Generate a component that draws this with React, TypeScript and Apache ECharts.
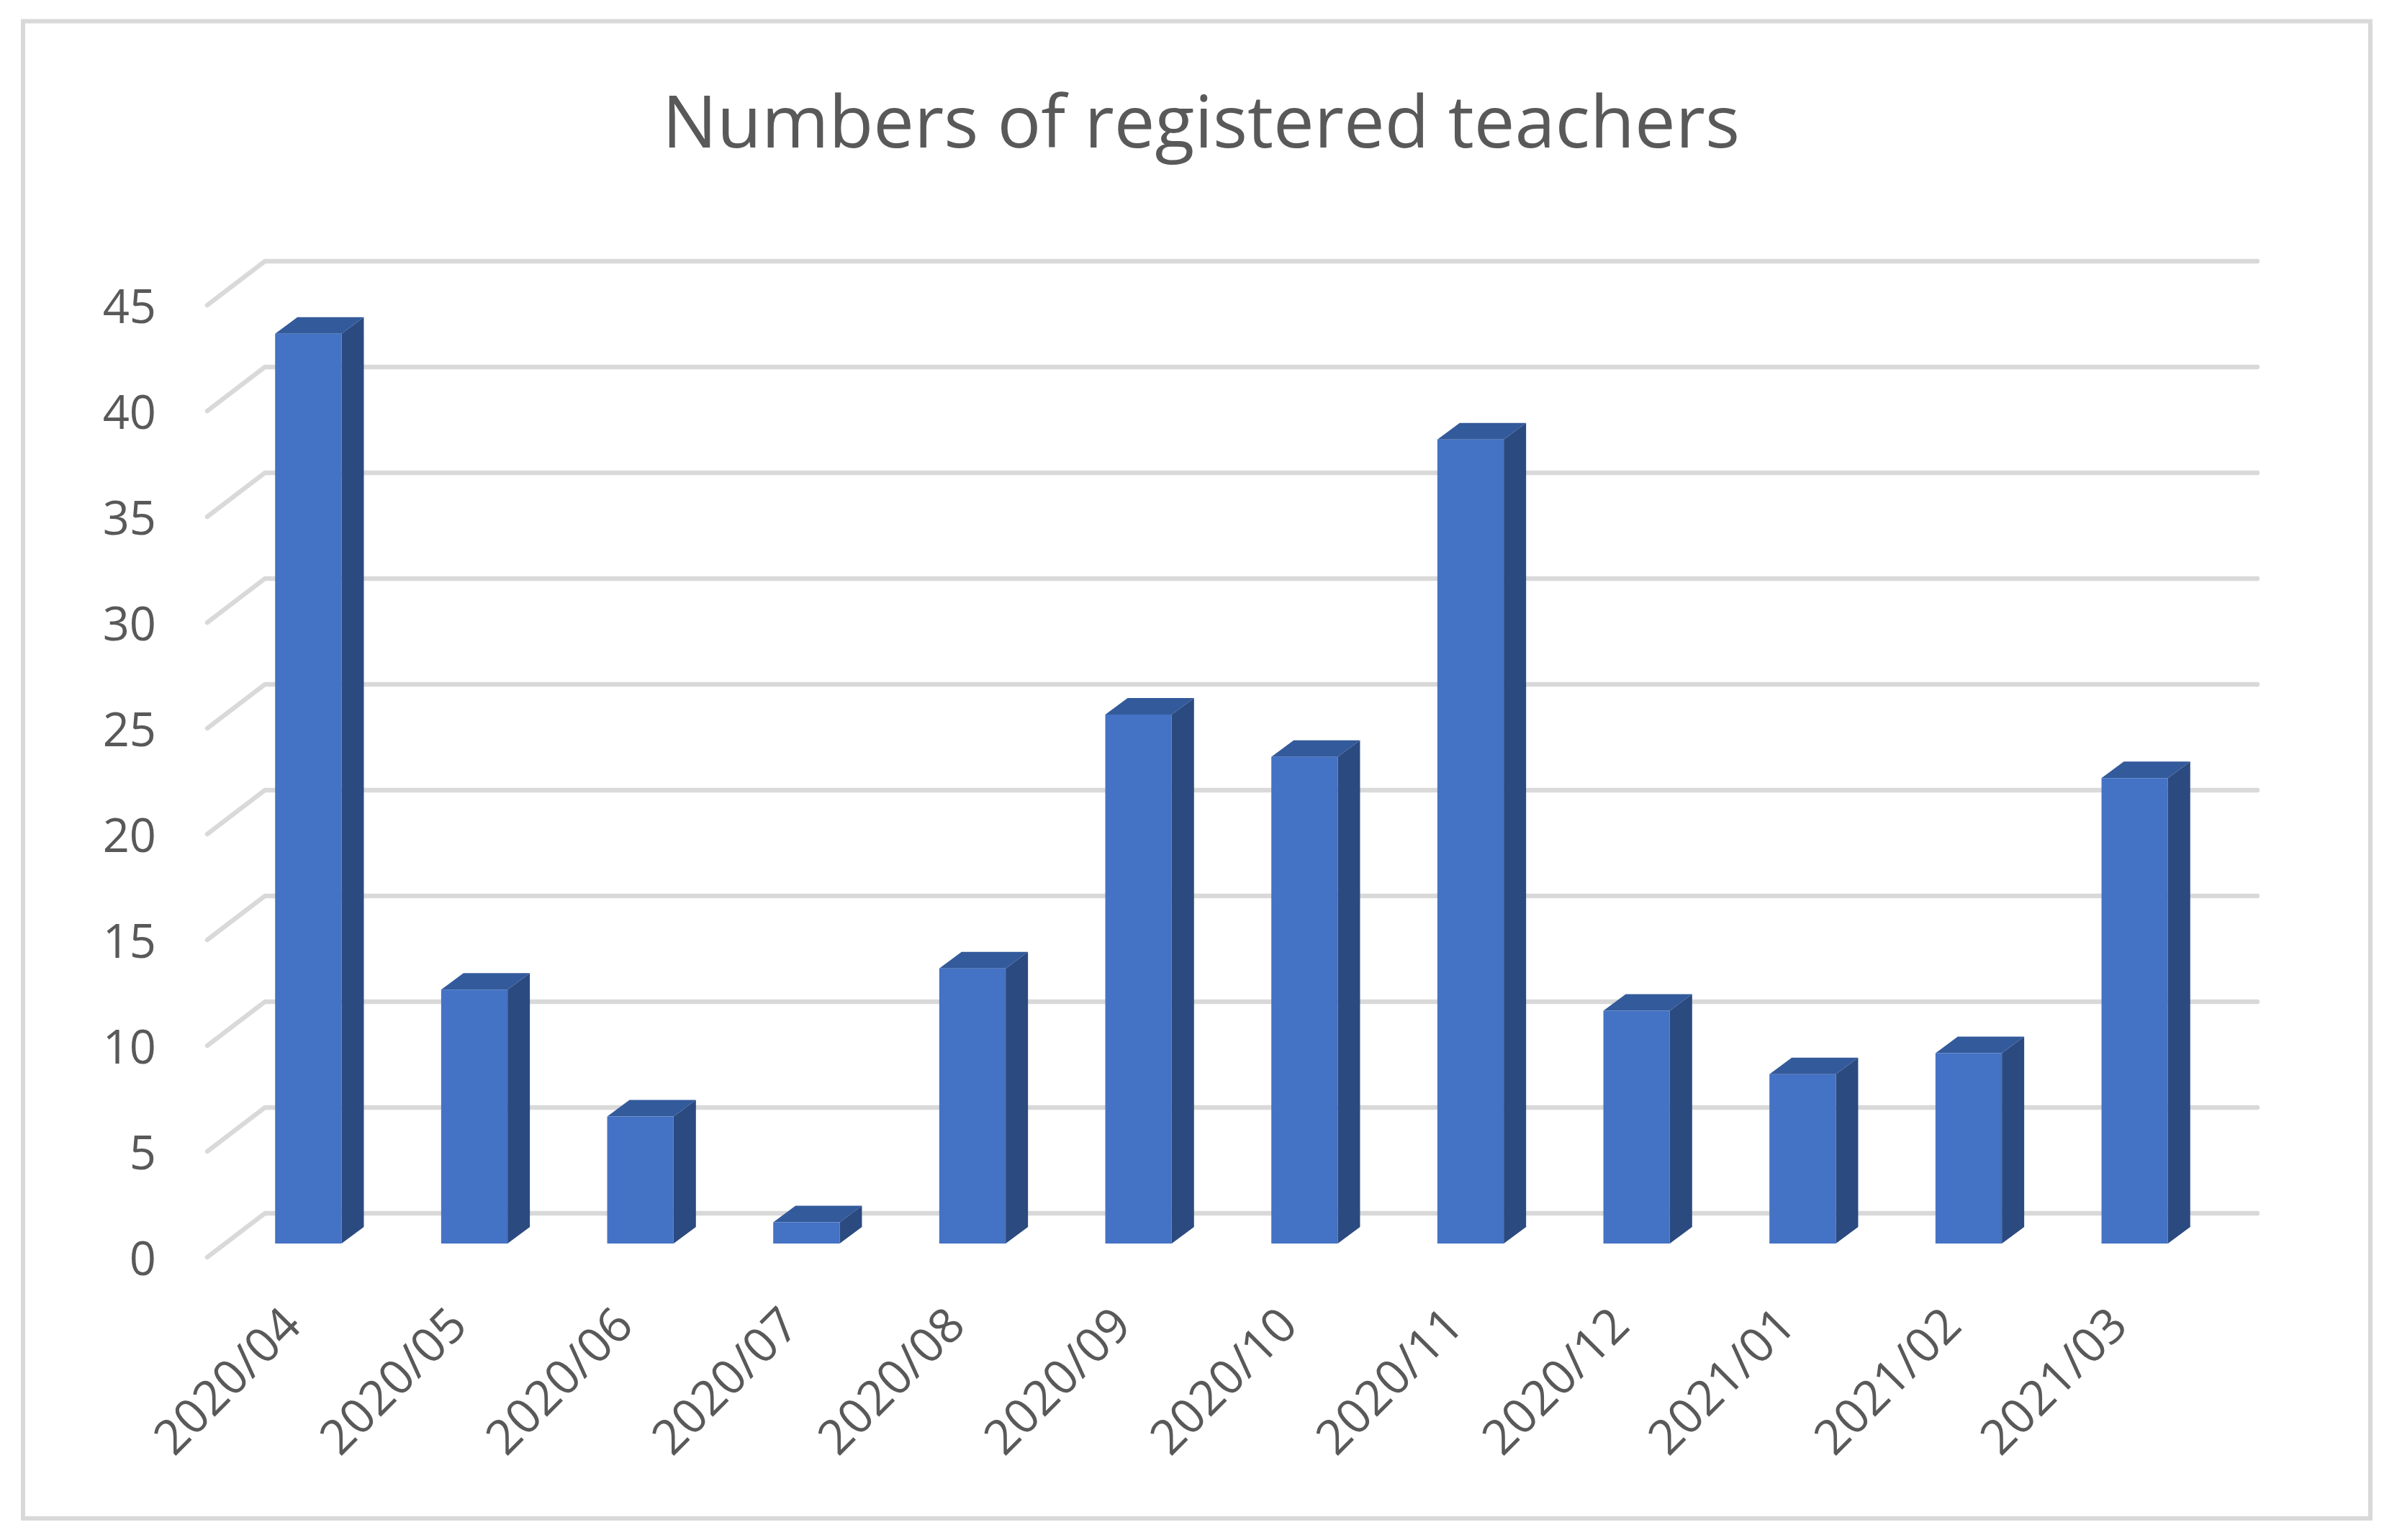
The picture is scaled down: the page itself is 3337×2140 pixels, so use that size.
import React, { useEffect, useRef } from "react";
import * as echarts from "echarts";

const categories = [
  "2020/04", "2020/05", "2020/06", "2020/07", "2020/08", "2020/09",
  "2020/10", "2020/11", "2020/12", "2021/01", "2021/02", "2021/03",
];
const registered = [43, 12, 6, 1, 13, 25, 23, 38, 11, 8, 9, 22];
const yTicks = [0, 5, 10, 15, 20, 25, 30, 35, 40, 45];
const chartTitle = "Numbers of registered teachers";

// 3D geometry (floor depth vector and bar placement within depth)
const FLOOR_DX = -80;
const FLOOR_DY = 61;
const BAR_FRONT_DX = -55;
const BAR_FRONT_DY = 42;
const BAR_DEPTH_DX = 31;
const BAR_DEPTH_DY = -23;

const FONT = "'Open Sans', 'Noto Sans', sans-serif";
const TEXT_COLOR = "#595959";

export default function App() {
  const ref = useRef<HTMLDivElement>(null);

  useEffect(() => {
    if (!ref.current) return;
    const chart = echarts.init(ref.current, null, { renderer: "svg" });

    const barData = categories.map((c, i) => [i, registered[i]]);
    const gridData = yTicks.map((v) => [0, v]);

    chart.setOption({
      animation: false,
      backgroundColor: "#ffffff",
      title: {
        text: chartTitle,
        left: "center",
        top: 110,
        textStyle: {
          fontFamily: FONT,
          fontSize: 101,
          fontWeight: "normal",
          color: TEXT_COLOR,
        },
      },
      graphic: [
        {
          type: "rect",
          shape: { x: 32, y: 29.5, width: 3261, height: 2080.5 },
          style: { fill: "none", stroke: "#d9d9d9", lineWidth: 6 },
          silent: true,
          z: -10,
        },
      ],
      grid: [
        { left: 368, right: 201, top: 363, bottom: 454 },
        { left: 288, right: 281, top: 424, bottom: 393 },
      ],
      xAxis: [
        {
          gridIndex: 0,
          type: "category",
          data: categories,
          axisLine: { show: false },
          axisTick: { show: false },
          axisLabel: { show: false },
          splitLine: { show: false },
        },
        {
          gridIndex: 1,
          type: "category",
          data: categories,
          axisLine: { show: false },
          axisTick: { show: false },
          splitLine: { show: false },
          axisLabel: {
            interval: 0,
            rotate: 45,
            margin: 80,
            fontFamily: FONT,
            fontSize: 67,
            color: TEXT_COLOR,
          },
        },
      ],
      yAxis: [
        {
          gridIndex: 0,
          type: "value",
          min: 0,
          max: 45,
          interval: 5,
          axisLine: { show: false },
          axisTick: { show: false },
          axisLabel: { show: false },
          splitLine: { show: false },
        },
        {
          gridIndex: 1,
          type: "value",
          min: 0,
          max: 45,
          interval: 5,
          axisLine: { show: false },
          axisTick: { show: false },
          splitLine: { show: false },
          axisLabel: {
            margin: 71,
            fontFamily: FONT,
            fontSize: 65,
            color: TEXT_COLOR,
          },
        },
      ],
      series: [
        {
          type: "custom",
          name: "gridlines",
          xAxisIndex: 0,
          yAxisIndex: 0,
          clip: false,
          silent: true,
          z: 1,
          data: gridData,
          encode: { x: 0, y: 1 },
          renderItem: (params: any, api: any) => {
            const v = api.value(1);
            const p = api.coord([0, v]);
            const cs = params.coordSys;
            const x0 = cs.x;
            const x1 = cs.x + cs.width;
            return {
              type: "polyline",
              shape: {
                points: [
                  [x0 + FLOOR_DX, p[1] + FLOOR_DY],
                  [x0, p[1]],
                  [x1, p[1]],
                ],
              },
              style: {
                stroke: "#d9d9d9",
                lineWidth: 6.5,
                fill: "none",
                lineCap: "round",
                lineJoin: "round",
              },
            };
          },
        },
        {
          type: "custom",
          name: "Registered teachers",
          xAxisIndex: 0,
          yAxisIndex: 0,
          clip: false,
          z: 5,
          data: barData,
          encode: { x: 0, y: 1 },
          renderItem: (params: any, api: any) => {
            const i = api.value(0);
            const v = api.value(1);
            const top = api.coord([i, v]);
            const base = api.coord([i, 0]);
            const band = api.size([1, 0])[0];
            const w = band * 0.4;
            const fx = top[0] + BAR_FRONT_DX;
            const xL = fx - w / 2;
            const xR = fx + w / 2;
            const yT = top[1] + BAR_FRONT_DY;
            const yB = base[1] + BAR_FRONT_DY;
            return {
              type: "group",
              children: [
                {
                  type: "polygon",
                  shape: {
                    points: [
                      [xR, yT],
                      [xR + BAR_DEPTH_DX, yT + BAR_DEPTH_DY],
                      [xR + BAR_DEPTH_DX, yB + BAR_DEPTH_DY],
                      [xR, yB],
                    ],
                  },
                  style: { fill: "#2B4A80" },
                },
                {
                  type: "polygon",
                  shape: {
                    points: [
                      [xL, yT],
                      [xL + BAR_DEPTH_DX, yT + BAR_DEPTH_DY],
                      [xR + BAR_DEPTH_DX, yT + BAR_DEPTH_DY],
                      [xR, yT],
                    ],
                  },
                  style: { fill: "#335A9B" },
                },
                {
                  type: "rect",
                  shape: { x: xL, y: yT, width: w, height: yB - yT },
                  style: { fill: "#4472C4" },
                },
              ],
            };
          },
        },
      ],
    });

    return () => {
      chart.dispose();
    };
  }, []);

  return (
    <div
      ref={ref}
      style={{
        position: "fixed",
        left: 0,
        top: 0,
        width: 3337,
        height: 2140,
        background: "#ffffff",
      }}
    />
  );
}
